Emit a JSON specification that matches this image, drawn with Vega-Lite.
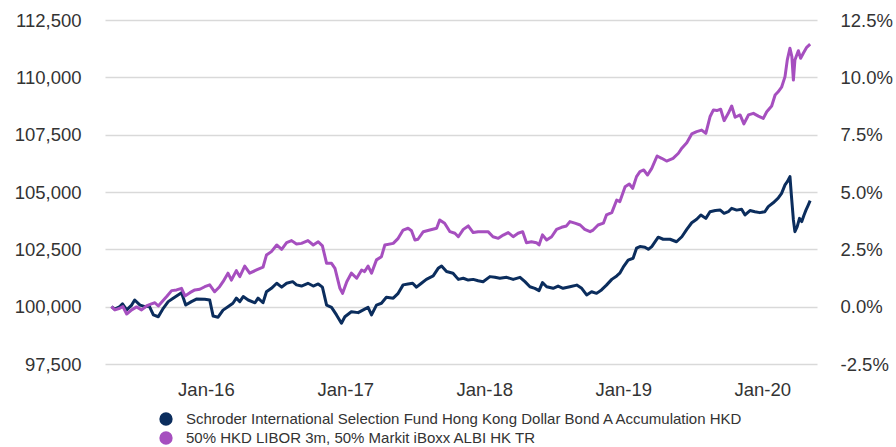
{
  "$schema": "https://vega.github.io/schema/vega-lite/v6.json",
  "width": 712,
  "height": 344,
  "autosize": {"type": "none"},
  "padding": {"left": 105, "top": 20, "right": 79, "bottom": 83},
  "background": "#ffffff",
  "config": {"view": {"stroke": null}, "font": "Liberation Sans"},
  "datasets": {
    "fund": [
      {"date":"2015-04-28","value":100000},{"date":"2015-05-07","value":99890},{"date":"2015-05-20","value":100000},{"date":"2015-05-27","value":100120},
      {"date":"2015-06-07","value":99860},{"date":"2015-06-20","value":100070},{"date":"2015-06-28","value":100290},{"date":"2015-07-12","value":100070},
      {"date":"2015-07-25","value":100000},{"date":"2015-08-05","value":100030},{"date":"2015-08-16","value":99640},{"date":"2015-08-29","value":99560},
      {"date":"2015-09-11","value":99930},{"date":"2015-09-24","value":100220},{"date":"2015-10-07","value":100370},{"date":"2015-10-29","value":100610},
      {"date":"2015-11-09","value":100070},{"date":"2015-11-24","value":100220},{"date":"2015-12-07","value":100330},{"date":"2015-12-29","value":100320},
      {"date":"2016-01-11","value":100290},{"date":"2016-01-20","value":99590},{"date":"2016-02-02","value":99540},{"date":"2016-02-15","value":99850},
      {"date":"2016-02-28","value":100000},{"date":"2016-03-12","value":100150},{"date":"2016-03-21","value":100370},{"date":"2016-03-30","value":100220},
      {"date":"2016-04-08","value":100440},{"date":"2016-04-21","value":100290},{"date":"2016-05-09","value":100170},{"date":"2016-05-17","value":100370},
      {"date":"2016-05-30","value":100170},{"date":"2016-06-08","value":100650},{"date":"2016-06-21","value":100800},{"date":"2016-07-05","value":101020},
      {"date":"2016-07-18","value":100850},{"date":"2016-07-31","value":101020},{"date":"2016-08-16","value":101090},{"date":"2016-08-26","value":100950},
      {"date":"2016-09-08","value":100900},{"date":"2016-09-25","value":101020},{"date":"2016-10-09","value":100900},{"date":"2016-10-22","value":100990},
      {"date":"2016-11-02","value":100850},{"date":"2016-11-13","value":100070},{"date":"2016-11-26","value":99970},{"date":"2016-12-09","value":99640},
      {"date":"2016-12-22","value":99280},{"date":"2016-12-31","value":99560},{"date":"2017-01-17","value":99780},{"date":"2017-02-04","value":99740},
      {"date":"2017-02-21","value":99890},{"date":"2017-03-02","value":99970},{"date":"2017-03-11","value":99640},{"date":"2017-03-24","value":100070},
      {"date":"2017-04-06","value":100150},{"date":"2017-04-19","value":100410},{"date":"2017-05-07","value":100370},{"date":"2017-05-20","value":100580},
      {"date":"2017-06-02","value":100950},{"date":"2017-06-15","value":100990},{"date":"2017-06-27","value":101020},{"date":"2017-07-07","value":100850},
      {"date":"2017-07-20","value":101020},{"date":"2017-08-02","value":101190},{"date":"2017-08-20","value":101340},{"date":"2017-09-02","value":101670},
      {"date":"2017-09-11","value":101770},{"date":"2017-09-24","value":101530},{"date":"2017-10-11","value":101460},{"date":"2017-10-25","value":101190},
      {"date":"2017-11-07","value":101240},{"date":"2017-11-20","value":101160},{"date":"2017-12-03","value":101190},{"date":"2017-12-16","value":101130},
      {"date":"2017-12-29","value":101090},{"date":"2018-01-16","value":101310},{"date":"2018-01-29","value":101280},{"date":"2018-02-11","value":101240},
      {"date":"2018-03-01","value":101280},{"date":"2018-03-18","value":101190},{"date":"2018-04-05","value":101280},{"date":"2018-04-18","value":101090},
      {"date":"2018-05-01","value":100870},{"date":"2018-05-14","value":100800},{"date":"2018-05-25","value":100700},{"date":"2018-06-03","value":101050},
      {"date":"2018-06-14","value":100870},{"date":"2018-07-01","value":100800},{"date":"2018-07-14","value":100900},{"date":"2018-07-27","value":100800},
      {"date":"2018-08-14","value":100870},{"date":"2018-09-01","value":100940},{"date":"2018-09-14","value":100800},{"date":"2018-09-27","value":100510},
      {"date":"2018-10-10","value":100650},{"date":"2018-10-23","value":100580},{"date":"2018-11-05","value":100730},{"date":"2018-11-18","value":100940},
      {"date":"2018-12-02","value":101190},{"date":"2018-12-15","value":101340},{"date":"2018-12-23","value":101460},{"date":"2019-01-01","value":101720},
      {"date":"2019-01-14","value":102030},{"date":"2019-01-27","value":102110},{"date":"2019-02-05","value":102550},{"date":"2019-02-14","value":102620},
      {"date":"2019-02-27","value":102590},{"date":"2019-03-08","value":102500},{"date":"2019-03-17","value":102620},{"date":"2019-04-03","value":103030},
      {"date":"2019-04-16","value":102940},{"date":"2019-05-04","value":102940},{"date":"2019-05-21","value":102830},{"date":"2019-06-04","value":103050},
      {"date":"2019-06-17","value":103370},{"date":"2019-06-30","value":103660},{"date":"2019-07-13","value":103810},{"date":"2019-07-24","value":104000},
      {"date":"2019-08-06","value":103850},{"date":"2019-08-17","value":104140},{"date":"2019-08-31","value":104190},{"date":"2019-09-13","value":104210},
      {"date":"2019-09-23","value":104070},{"date":"2019-10-04","value":104140},{"date":"2019-10-13","value":104290},{"date":"2019-10-26","value":104210},
      {"date":"2019-11-08","value":104250},{"date":"2019-11-17","value":104000},{"date":"2019-11-30","value":104190},{"date":"2019-12-13","value":104140},
      {"date":"2019-12-26","value":104100},{"date":"2020-01-08","value":104140},{"date":"2020-01-17","value":104360},{"date":"2020-01-30","value":104530},
      {"date":"2020-02-12","value":104730},{"date":"2020-02-21","value":104940},{"date":"2020-03-01","value":105310},{"date":"2020-03-07","value":105450},
      {"date":"2020-03-14","value":105670},{"date":"2020-03-18","value":104800},{"date":"2020-03-23","value":103780},{"date":"2020-03-27","value":103270},
      {"date":"2020-04-02","value":103490},{"date":"2020-04-08","value":103850},{"date":"2020-04-14","value":103710},{"date":"2020-04-20","value":104000},
      {"date":"2020-04-25","value":104210},{"date":"2020-05-01","value":104430},{"date":"2020-05-06","value":104620}
    ],
    "bench": [
      {"date":"2015-04-28","value":100000},{"date":"2015-05-07","value":99860},{"date":"2015-05-20","value":99930},{"date":"2015-05-28","value":100000},
      {"date":"2015-06-07","value":99680},{"date":"2015-06-20","value":99860},{"date":"2015-07-03","value":99990},{"date":"2015-07-16","value":99860},
      {"date":"2015-07-29","value":100030},{"date":"2015-08-11","value":100120},{"date":"2015-08-20","value":100170},{"date":"2015-08-29","value":100030},
      {"date":"2015-09-10","value":100260},{"date":"2015-09-20","value":100440},{"date":"2015-10-03","value":100700},{"date":"2015-10-16","value":100730},
      {"date":"2015-10-29","value":100800},{"date":"2015-11-07","value":100470},{"date":"2015-11-20","value":100610},{"date":"2015-12-03","value":100730},
      {"date":"2015-12-16","value":100760},{"date":"2015-12-29","value":100870},{"date":"2016-01-11","value":100950},{"date":"2016-01-24","value":100650},
      {"date":"2016-02-06","value":100870},{"date":"2016-02-15","value":101090},{"date":"2016-02-28","value":101460},{"date":"2016-03-08","value":101160},
      {"date":"2016-03-21","value":101570},{"date":"2016-03-30","value":101310},{"date":"2016-04-12","value":101770},{"date":"2016-04-25","value":101460},
      {"date":"2016-05-13","value":101600},{"date":"2016-05-30","value":101720},{"date":"2016-06-08","value":102250},{"date":"2016-06-21","value":102400},
      {"date":"2016-07-05","value":102690},{"date":"2016-07-18","value":102500},{"date":"2016-07-31","value":102790},{"date":"2016-08-13","value":102880},
      {"date":"2016-08-26","value":102730},{"date":"2016-09-08","value":102760},{"date":"2016-09-25","value":102880},{"date":"2016-10-09","value":102690},
      {"date":"2016-10-22","value":102830},{"date":"2016-11-02","value":102650},{"date":"2016-11-13","value":101890},{"date":"2016-11-26","value":101890},
      {"date":"2016-12-05","value":101670},{"date":"2016-12-18","value":100800},{"date":"2016-12-25","value":100580},{"date":"2017-01-05","value":101090},
      {"date":"2017-01-17","value":101460},{"date":"2017-01-31","value":101240},{"date":"2017-02-13","value":101600},{"date":"2017-02-21","value":101530},
      {"date":"2017-03-02","value":101770},{"date":"2017-03-11","value":101460},{"date":"2017-03-24","value":102040},{"date":"2017-04-06","value":102180},
      {"date":"2017-04-15","value":102690},{"date":"2017-05-07","value":102760},{"date":"2017-05-20","value":102980},{"date":"2017-06-02","value":103340},
      {"date":"2017-06-15","value":103420},{"date":"2017-06-24","value":103310},{"date":"2017-07-03","value":102910},{"date":"2017-07-11","value":102940},
      {"date":"2017-07-25","value":103270},{"date":"2017-08-11","value":103340},{"date":"2017-08-29","value":103420},{"date":"2017-09-06","value":103780},
      {"date":"2017-09-19","value":103640},{"date":"2017-10-03","value":103270},{"date":"2017-10-16","value":103200},{"date":"2017-10-25","value":103050},
      {"date":"2017-11-07","value":103370},{"date":"2017-11-20","value":103520},{"date":"2017-12-03","value":103230},{"date":"2017-12-16","value":103270},
      {"date":"2017-12-29","value":103270},{"date":"2018-01-11","value":103270},{"date":"2018-01-24","value":103050},{"date":"2018-02-07","value":102980},
      {"date":"2018-02-20","value":103120},{"date":"2018-03-05","value":103230},{"date":"2018-03-18","value":103050},{"date":"2018-03-31","value":103200},
      {"date":"2018-04-12","value":103270},{"date":"2018-04-22","value":102790},{"date":"2018-05-05","value":102830},{"date":"2018-05-18","value":102790},
      {"date":"2018-05-25","value":102690},{"date":"2018-06-03","value":103130},{"date":"2018-06-14","value":102910},{"date":"2018-06-27","value":103050},
      {"date":"2018-07-10","value":103370},{"date":"2018-07-23","value":103460},{"date":"2018-08-05","value":103520},{"date":"2018-08-14","value":103710},
      {"date":"2018-08-27","value":103640},{"date":"2018-09-10","value":103560},{"date":"2018-09-22","value":103370},{"date":"2018-10-06","value":103270},
      {"date":"2018-10-14","value":103340},{"date":"2018-10-27","value":103560},{"date":"2018-11-10","value":103640},{"date":"2018-11-18","value":104000},
      {"date":"2018-12-02","value":104100},{"date":"2018-12-15","value":104650},{"date":"2018-12-23","value":104580},{"date":"2019-01-06","value":105230},
      {"date":"2019-01-17","value":105350},{"date":"2019-01-26","value":105160},{"date":"2019-02-05","value":105670},{"date":"2019-02-14","value":105890},
      {"date":"2019-02-24","value":105960},{"date":"2019-03-06","value":105740},{"date":"2019-03-17","value":106030},{"date":"2019-03-31","value":106570},
      {"date":"2019-04-12","value":106470},{"date":"2019-04-25","value":106350},{"date":"2019-05-12","value":106470},{"date":"2019-05-26","value":106690},
      {"date":"2019-06-04","value":106910},{"date":"2019-06-17","value":107150},{"date":"2019-06-30","value":107530},{"date":"2019-07-13","value":107630},
      {"date":"2019-07-26","value":107700},{"date":"2019-08-06","value":107560},{"date":"2019-08-17","value":108280},{"date":"2019-08-26","value":108580},
      {"date":"2019-09-04","value":108550},{"date":"2019-09-14","value":108610},{"date":"2019-09-23","value":108110},{"date":"2019-10-04","value":108430},
      {"date":"2019-10-13","value":108750},{"date":"2019-10-22","value":108260},{"date":"2019-11-04","value":108360},{"date":"2019-11-14","value":107970},
      {"date":"2019-11-26","value":108360},{"date":"2019-12-09","value":108430},{"date":"2019-12-22","value":108310},{"date":"2020-01-04","value":108210},
      {"date":"2020-01-13","value":108500},{"date":"2020-01-26","value":108750},{"date":"2020-02-04","value":109230},{"date":"2020-02-12","value":109370},
      {"date":"2020-02-21","value":109570},{"date":"2020-03-01","value":110030},{"date":"2020-03-07","value":110760},{"date":"2020-03-14","value":111270},
      {"date":"2020-03-19","value":110900},{"date":"2020-03-23","value":109880},{"date":"2020-03-27","value":110760},{"date":"2020-04-05","value":111160},
      {"date":"2020-04-11","value":110830},{"date":"2020-04-18","value":111050},{"date":"2020-04-27","value":111310},{"date":"2020-05-06","value":111450}
    ]
  },
  "encoding": {
    "x": {
      "field": "date",
      "type": "temporal",
      "scale": {
        "type": "utc",
        "domain": [
          {"year": 2015, "month": 4, "date": 11, "utc": true},
          {"year": 2020, "month": 5, "date": 24, "utc": true}
        ]
      },
      "axis": {
        "orient": "bottom",
        "values": [
          {"year": 2016, "month": 1, "date": 1, "utc": true},
          {"year": 2017, "month": 1, "date": 1, "utc": true},
          {"year": 2018, "month": 1, "date": 1, "utc": true},
          {"year": 2019, "month": 1, "date": 1, "utc": true},
          {"year": 2020, "month": 1, "date": 1, "utc": true}
        ],
        "labelExpr": "utcFormat(datum.value, '%b-%y')",
        "title": null,
        "domain": false,
        "ticks": false,
        "tickSize": 0,
        "grid": false,
        "labelPadding": 16,
        "labelFont": "Liberation Sans",
        "labelFontSize": 18.5,
        "labelColor": "#333333"
      }
    }
  },
  "layer": [
    {
      "data": {"name": "fund"},
      "mark": {"type": "line", "strokeWidth": 3, "strokeJoin": "round"},
      "encoding": {
        "y": {
          "field": "value",
          "type": "quantitative",
          "scale": {"domain": [97500, 112500], "zero": false, "nice": false},
          "axis": {
            "orient": "left",
            "values": [97500, 100000, 102500, 105000, 107500, 110000, 112500],
            "format": ",d",
            "title": null,
            "domain": false,
            "ticks": false,
            "tickSize": 0,
            "labelPadding": 24,
            "labelFont": "Liberation Sans",
            "labelFontSize": 18.5,
            "labelColor": "#333333",
            "grid": true,
            "gridColor": "#d9d9d9",
            "gridWidth": 1.5
          }
        },
        "color": {
          "datum": "fund",
          "type": "nominal",
          "scale": {"domain": ["fund", "bench"], "range": ["#0b2d5d", "#a64fbf"]},
          "legend": {
            "orient": "none",
            "legendX": 53.5,
            "legendY": 391.5,
            "title": null,
            "direction": "vertical",
            "symbolType": "circle",
            "symbolSize": 177,
            "symbolStrokeWidth": 0,
            "labelFont": "Liberation Sans",
            "labelFontSize": 15,
            "labelColor": "#333333",
            "labelLimit": 0,
            "labelOffset": 12.5,
            "rowPadding": 3,
            "padding": 0,
            "offset": 0,
            "labelExpr": "datum.label == 'fund' ? 'Schroder International Selection Fund Hong Kong Dollar Bond A Accumulation HKD' : '50% HKD LIBOR 3m, 50% Markit iBoxx ALBI HK TR'",
            "encode": {
              "symbols": {
                "update": {
                  "fill": {"scale": "color", "field": "value"},
                  "fillOpacity": {"value": 1},
                  "strokeWidth": {"value": 0}
                }
              }
            }
          }
        }
      }
    },
    {
      "data": {"name": "bench"},
      "mark": {"type": "line", "strokeWidth": 3, "strokeJoin": "round"},
      "encoding": {
        "y": {
          "field": "value",
          "type": "quantitative",
          "scale": {"domain": [97500, 112500], "zero": false, "nice": false},
          "axis": null
        },
        "color": {"datum": "bench", "type": "nominal"}
      }
    },
    {
      "data": {"name": "fund"},
      "mark": {"type": "line", "strokeOpacity": 0},
      "encoding": {
        "y": {
          "field": "value",
          "type": "quantitative",
          "scale": {"domain": [97500, 112500], "zero": false, "nice": false},
          "axis": {
            "orient": "right",
            "values": [97500, 100000, 102500, 105000, 107500, 110000, 112500],
            "labelExpr": "(datum.value < 100000 ? '-' : '') + format(abs(datum.value / 1000 - 100), '.1f') + '%'",
            "title": null,
            "domain": false,
            "ticks": false,
            "tickSize": 0,
            "labelPadding": 23,
            "labelFont": "Liberation Sans",
            "labelFontSize": 18.5,
            "labelColor": "#333333",
            "grid": false
          }
        }
      }
    }
  ],
  "resolve": {"axis": {"y": "independent"}}
}
